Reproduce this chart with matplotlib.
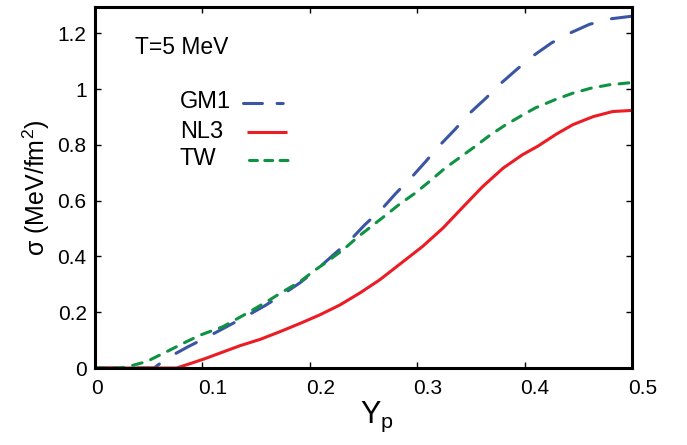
import matplotlib
matplotlib.use("Agg")
import matplotlib.pyplot as plt
from matplotlib.lines import Line2D
import matplotlib.transforms as mtransforms

plt.rcParams['font.family'] = ['Liberation Sans', 'DejaVu Sans']
plt.rcParams['mathtext.fontset'] = 'custom'
plt.rcParams['mathtext.rm'] = 'Liberation Sans'
plt.rcParams['mathtext.it'] = 'Liberation Sans'

# ---- data ----
gm1_x = [0.0, 0.055, 0.067, 0.087, 0.104, 0.1225, 0.1395, 0.158, 0.174, 0.191, 0.208,
         0.222, 0.237, 0.251, 0.267, 0.280, 0.294, 0.308, 0.320, 0.335, 0.348, 0.364,
         0.377, 0.393, 0.408, 0.425, 0.442, 0.4605, 0.481, 0.5]
gm1_y = [0.0, 0.0, 0.035, 0.077, 0.110, 0.148, 0.183, 0.223, 0.262, 0.306, 0.358,
         0.406, 0.456, 0.513, 0.570, 0.626, 0.681, 0.741, 0.795, 0.855, 0.911, 0.968,
         1.018, 1.072, 1.120, 1.166, 1.201, 1.233, 1.253, 1.262]

tw_x = [0.0, 0.02, 0.029, 0.048, 0.067, 0.085, 0.098, 0.119, 0.140, 0.160, 0.175,
        0.191, 0.203, 0.217, 0.231, 0.245, 0.259, 0.272, 0.284, 0.298, 0.312, 0.326,
        0.340, 0.354, 0.367, 0.381, 0.397, 0.410, 0.428, 0.445, 0.462, 0.479, 0.5]
tw_y = [0.0, 0.0, 0.003, 0.023, 0.059, 0.094, 0.118, 0.148, 0.193, 0.238, 0.274,
        0.310, 0.346, 0.384, 0.424, 0.471, 0.513, 0.552, 0.589, 0.627, 0.671, 0.717,
        0.756, 0.795, 0.833, 0.869, 0.905, 0.933, 0.962, 0.986, 1.004, 1.016, 1.024]

nl3_x = [0.0, 0.076, 0.088, 0.102, 0.135, 0.154, 0.172, 0.191, 0.209, 0.228, 0.247,
         0.265, 0.281, 0.305, 0.324, 0.343, 0.361, 0.380, 0.398, 0.412, 0.430, 0.445,
         0.464, 0.482, 0.5]
nl3_y = [0.0, 0.0, 0.015, 0.033, 0.080, 0.103, 0.130, 0.160, 0.190, 0.226, 0.270,
         0.316, 0.364, 0.436, 0.502, 0.579, 0.651, 0.717, 0.765, 0.795, 0.840, 0.873,
         0.902, 0.920, 0.924]

labels = ['GM1', 'NL3', 'TW']
colors = ['#3b55a5', '#ec1c24', '#0f9343']
xticks = [0, 0.1, 0.2, 0.3, 0.4, 0.5]
xticklabels = ['0', '0.1', '0.2', '0.3', '0.4', '0.5']
yticks = [0, 0.2, 0.4, 0.6, 0.8, 1.0, 1.2]
yticklabels = ['0', '0.2', '0.4', '0.6', '0.8', '1', '1.2']
annot = 'T=5 MeV'

fig = plt.figure(figsize=(6.87, 4.45), dpi=100)
ax = fig.add_axes([95/687, 77/445, 537/687, 361/445])

lw = 2.2
curve_dashes = [(7.5, 6.5), None, (3.2, 3.0)]
legend_dashes = [(6.2, 4.8, 2.0, 4.8), None, (2.6, 2.4)]
series = [(gm1_x, gm1_y), (nl3_x, nl3_y), (tw_x, tw_y)]
for (xs, ys), c, d in zip(series, colors, curve_dashes):
    kw = dict(color=c, lw=lw, dash_capstyle='round', solid_capstyle='round')
    if d is not None:
        kw['dashes'] = d
    ax.plot(xs, ys, **kw)

ax.set_xlim(0, 0.5)
ax.set_ylim(0, 1.295)
ax.set_xticks(xticks)
ax.set_xticklabels(xticklabels)
ax.set_yticks(yticks)
ax.set_yticklabels(yticklabels)
ax.tick_params(direction='in', length=4, width=1, top=True, right=True,
               labelsize=15)
ax.tick_params(axis='x', pad=8)
ax.tick_params(axis='y', pad=6)
for lab in ax.get_xticklabels():
    lab.set_horizontalalignment('left')
    lab.set_transform(lab.get_transform() + mtransforms.ScaledTranslation(-4/100, 0, fig.dpi_scale_trans))
for sp in ax.spines.values():
    sp.set_linewidth(2.2)

ax.set_xlabel('$Y_p$', fontsize=22, labelpad=1)
ax.xaxis.label.set_x(0.525)
ax.set_ylabel('σ (MeV/fm$^2$)', fontsize=18, labelpad=4)

ax.text(0.0745, 0.887, annot, transform=ax.transAxes, fontsize=16.5,
        ha='left', va='center')

# legend: labels left-aligned, line samples on the right
text_y = [0.737, 0.654, 0.580]
line_y = [0.735, 0.654, 0.576]
line_x0 = [0.275, 0.283, 0.287]
line_x1 = [0.352, 0.357, 0.359]
for lab, c, d, ty, ly, x0, x1 in zip(labels, colors, legend_dashes, text_y, line_y, line_x0, line_x1):
    ax.text(0.158, ty, lab, transform=ax.transAxes, fontsize=17, ha='left', va='center')
    kw = dict(color=c, lw=lw, transform=ax.transAxes, dash_capstyle='round', solid_capstyle='butt')
    if d is not None:
        kw['dashes'] = d
    ax.add_line(Line2D([x0, x1], [ly, ly], **kw))

fig.savefig('out.png', dpi=100)
